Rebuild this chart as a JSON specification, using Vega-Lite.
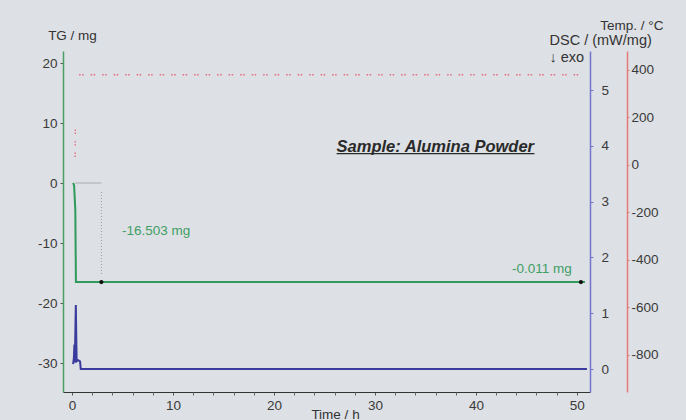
{
  "$schema": "https://vega.github.io/schema/vega-lite/v6.json",
  "autosize": {"type": "none"},
  "width": 527,
  "height": 341,
  "padding": {"left": 63, "top": 51, "right": 96, "bottom": 28},
  "background": "#dde0e4",
  "config": {
    "view": {"stroke": null},
    "axis": {"labelFont": "Liberation Sans", "labelFontSize": 13.5, "labelColor": "#3a3a3a", "titleFont": "Liberation Sans", "titleFontSize": 13.5, "titleFontWeight": "normal", "titleColor": "#333333", "grid": false, "tickColor": "#555555", "labelOverlap": false, "labelExpr": "replace(datum.label, '\u2212', '-')"},
    "text": {"font": "Liberation Sans"}
  },
  "datasets": {
    "tg": [
      {"t": 0.1, "v": 0.0}, {"t": 0.2, "v": -0.4}, {"t": 0.32, "v": -4.5}, {"t": 0.38, "v": -16.5}, {"t": 50.8, "v": -16.5}
    ],
    "dsc": [
      {"t": 0.1, "v": 0.09}, {"t": 0.18, "v": 0.2}, {"t": 0.23, "v": 0.44}, {"t": 0.27, "v": 0.12}, {"t": 0.37, "v": 1.15}, {"t": 0.45, "v": 0.14}, {"t": 0.6, "v": 0.16}, {"t": 0.79, "v": 0.14}, {"t": 0.86, "v": 0.0}, {"t": 51.0, "v": 0.0}
    ],
    "temp": [
      {"t": 0.3, "v": 34, "seg": "ramp"}, {"t": 0.32, "v": 150, "seg": "ramp"},
      {"t": 0.7, "v": 380, "seg": "hold"}, {"t": 50.5, "v": 380, "seg": "hold"}
    ],
    "dimh": [{"t": 0.3, "t2": 2.9, "v": 0}],
    "dimv": [{"t": 2.9, "v": -1.5, "v2": -15.3}],
    "marks": [{"t": 2.9, "v": -16.5}, {"t": 50.4, "v": -16.5}],
    "labelL": [{"t": 4.95, "v": -8.0, "txt": "-16.503 mg"}],
    "labelR": [{"t": 49.5, "v": -14.33, "txt": "-0.011 mg"}],
    "sample": [{"t": 26.2, "t2": 45.8, "v": 6.0, "u": 4.9, "txt": "Sample: Alumina Powder"}]
  },
  "layer": [
    {
      "data": {"name": "tg"},
      "mark": {"type": "line", "color": "#2f9a5c", "strokeWidth": 2, "interpolate": "linear"},
      "encoding": {
        "x": {"field": "t", "type": "quantitative", "scale": {"domain": [-0.9, 51.3], "nice": false, "zero": false},
          "axis": {"orient": "bottom", "title": "Time / h", "values": [0,10,20,30,40,50],
            "labelOverlap": false, "labelFlush": false, "tickSize": 3, "labelPadding": 3, "domainColor": "#333333", "domainWidth": 1.2,
            "titleX": 272, "titleY": 22, "titleBaseline": "middle", "titleAlign": "center"}},
        "y": {"field": "v", "type": "quantitative", "scale": {"domain": [-34.83, 22], "nice": false, "zero": false},
          "axis": {"orient": "left", "title": "TG / mg", "values": [-30,-20,-10,0,10,20], "tickSize": 3, "labelPadding": 3, "domainColor": "#4c9e66", "domainWidth": 1.5,
            "titleAngle": 0, "titleX": 9, "titleY": -16, "titleAlign": "center", "titleBaseline": "middle"}}
      }
    },
    {
      "data": {"name": "dimh"},
      "mark": {"type": "rule", "color": "#a8acb0", "strokeWidth": 1},
      "encoding": {
        "x": {"field": "t", "type": "quantitative", "scale": {"domain": [-0.9, 51.3], "nice": false, "zero": false},
          "axis": {"orient": "bottom", "title": null, "values": [2,4,6,8,12,14,16,18,22,24,26,28,32,34,36,38,42,44,46,48], "labels": false, "domain": false, "tickSize": 3, "tickColor": "#666666"}},
        "x2": {"field": "t2"},
        "y": {"field": "v", "type": "quantitative", "scale": {"domain": [-34.83, 22], "nice": false, "zero": false}, "axis": null}
      }
    },
    {
      "data": {"name": "dimv"},
      "mark": {"type": "rule", "color": "#9a9ea2", "strokeWidth": 1, "strokeDash": [1, 2]},
      "encoding": {
        "x": {"field": "t", "type": "quantitative", "scale": {"domain": [-0.9, 51.3], "nice": false, "zero": false}, "axis": null},
        "y": {"field": "v", "type": "quantitative", "scale": {"domain": [-34.83, 22], "nice": false, "zero": false}, "axis": null},
        "y2": {"field": "v2"}
      }
    },
    {
      "data": {"name": "marks"},
      "mark": {"type": "point", "filled": true, "color": "#111111", "size": 18, "opacity": 1},
      "encoding": {
        "x": {"field": "t", "type": "quantitative", "scale": {"domain": [-0.9, 51.3], "nice": false, "zero": false}, "axis": null},
        "y": {"field": "v", "type": "quantitative", "scale": {"domain": [-34.83, 22], "nice": false, "zero": false}, "axis": null}
      }
    },
    {
      "data": {"name": "labelL"},
      "mark": {"type": "text", "fontSize": 13.5, "color": "#3f9e64", "baseline": "middle", "align": "left"},
      "encoding": {
        "x": {"field": "t", "type": "quantitative", "scale": {"domain": [-0.9, 51.3], "nice": false, "zero": false}, "axis": null},
        "y": {"field": "v", "type": "quantitative", "scale": {"domain": [-34.83, 22], "nice": false, "zero": false}, "axis": null},
        "text": {"field": "txt"}
      }
    },
    {
      "data": {"name": "labelR"},
      "mark": {"type": "text", "fontSize": 13.5, "color": "#3f9e64", "baseline": "middle", "align": "right"},
      "encoding": {
        "x": {"field": "t", "type": "quantitative", "scale": {"domain": [-0.9, 51.3], "nice": false, "zero": false}, "axis": null},
        "y": {"field": "v", "type": "quantitative", "scale": {"domain": [-34.83, 22], "nice": false, "zero": false}, "axis": null},
        "text": {"field": "txt"}
      }
    },
    {
      "data": {"name": "sample"},
      "mark": {"type": "text", "fontSize": 16.5, "fontWeight": "bold", "fontStyle": "italic", "color": "#2a2a2a", "baseline": "middle", "align": "left"},
      "encoding": {
        "x": {"field": "t", "type": "quantitative", "scale": {"domain": [-0.9, 51.3], "nice": false, "zero": false}, "axis": null},
        "y": {"field": "v", "type": "quantitative", "scale": {"domain": [-34.83, 22], "nice": false, "zero": false}, "axis": null},
        "text": {"field": "txt"}
      }
    },
    {
      "data": {"name": "sample"},
      "mark": {"type": "rule", "color": "#2a2a2a", "strokeWidth": 1.3},
      "encoding": {
        "x": {"field": "t", "type": "quantitative", "scale": {"domain": [-0.9, 51.3], "nice": false, "zero": false}, "axis": null},
        "x2": {"field": "t2"},
        "y": {"field": "u", "type": "quantitative", "scale": {"domain": [-34.83, 22], "nice": false, "zero": false}, "axis": null}
      }
    },
    {
      "data": {"name": "dsc"},
      "mark": {"type": "line", "color": "#3b3b9e", "strokeWidth": 2},
      "encoding": {
        "x": {"field": "t", "type": "quantitative", "scale": {"domain": [-0.9, 51.3], "nice": false, "zero": false}, "axis": null},
        "y": {"field": "v", "type": "quantitative", "scale": {"domain": [-0.41, 5.7], "nice": false, "zero": false},
          "axis": {"orient": "right", "title": ["DSC / (mW/mg)", "↓ exo"], "titleFontSize": 14.5, "values": [0,1,2,3,4,5], "tickSize": 3, "labelPadding": 8, "domainColor": "#7474cc", "domainWidth": 1.5, "tickColor": "#7474cc",
            "titleAngle": 0, "titleX": -41, "titleY": -18, "titleAlign": "left", "titleBaseline": "top", "titleLineHeight": 17}}
      }
    },
    {
      "data": {"name": "temp"},
      "mark": {"type": "line", "color": "#e46b7c", "strokeWidth": 1.3, "strokeDash": [1.5, 1.5, 1.5, 7]},
      "encoding": {
        "x": {"field": "t", "type": "quantitative", "scale": {"domain": [-0.9, 51.3], "nice": false, "zero": false}, "axis": null},
        "y": {"field": "v", "type": "quantitative", "scale": {"domain": [-956, 480], "nice": false, "zero": false},
          "axis": {"orient": "right", "offset": 37, "title": "Temp. / °C", "values": [-800,-600,-400,-200,0,200,400], "tickSize": 2, "labelPadding": 2, "domainColor": "#e57a7a", "domainWidth": 1.5, "tickColor": "#e57a7a",
            "titleAngle": 0, "titleX": 36, "titleY": -26, "titleAlign": "right", "titleBaseline": "middle"}},
        "detail": {"field": "seg", "type": "nominal"}
      }
    }
  ],
  "resolve": {"scale": {"y": "independent"}, "axis": {"x": "independent", "y": "independent"}}
}
